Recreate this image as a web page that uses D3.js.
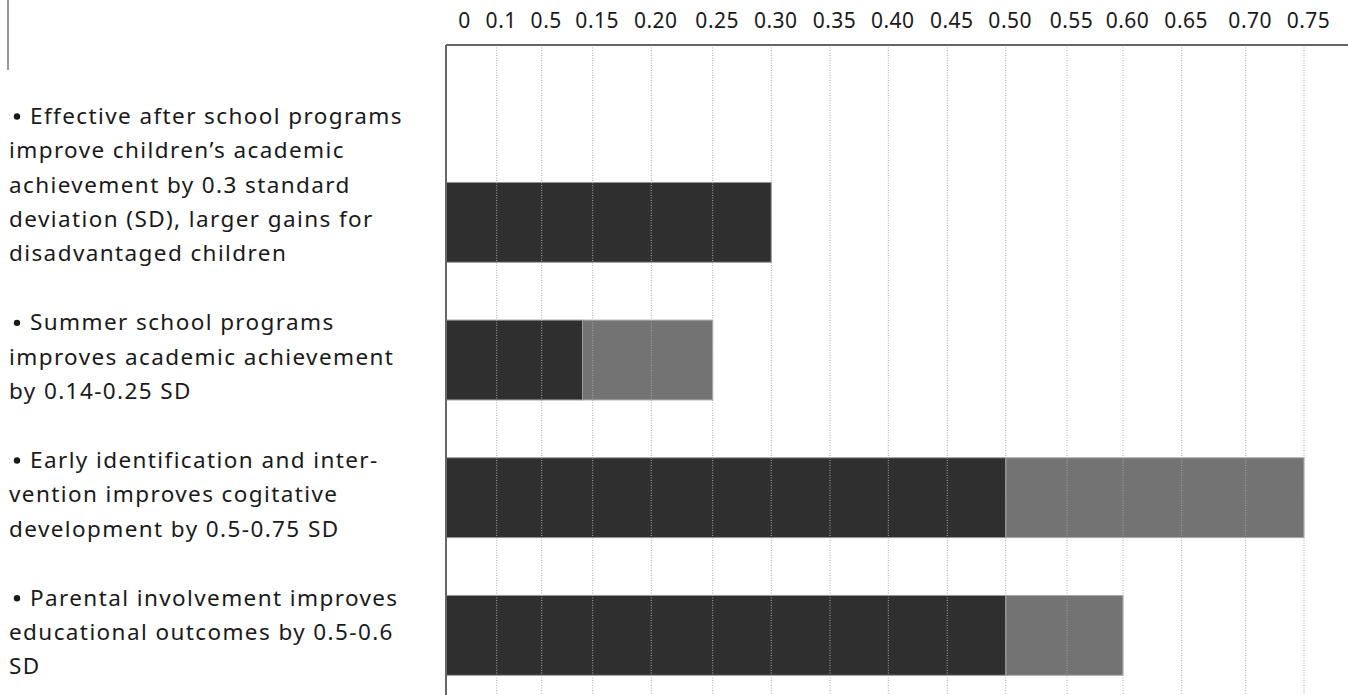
<!DOCTYPE html>
<html lang="en">
<head>
    <meta charset="UTF-8">
    <script src="https://cdn.jsdelivr.net/npm/d3@7"></script>
    <title>Effect sizes</title>
    <style>
        body { margin: 0; background: white; }
        svg { display: block; }
        text { font-family: "Noto Sans", Lato, sans-serif; fill: #1a1a1a; }
    </style>
</head>
<body>
    <script>
        /*------------------- data --------------------*/
        const categories = ["after", "summer", "early", "parental"];
        // base (dark) value and upper end of range (gray)
        const lowValues = [0.30, 0.14, 0.50, 0.50];
        const highValues = [0.30, 0.25, 0.75, 0.60];
        const descriptions = [
            ["Effective after school programs", "improve children\u2019s academic", "achievement by 0.3 standard", "deviation (SD), larger gains for", "disadvantaged children"],
            ["Summer school programs", "improves academic achievement", "by 0.14-0.25 SD"],
            ["Early identification and inter-", "vention improves cogitative", "development by 0.5-0.75 SD"],
            ["Parental involvement improves", "educational outcomes by 0.5-0.6", "SD"]
        ];
        const tickValues = [0, 0.05, 0.10, 0.15, 0.20, 0.25, 0.30, 0.35, 0.40, 0.45, 0.50, 0.55, 0.60, 0.65, 0.70, 0.75];
        const tickLabels = ["0", "0.1", "0.5", "0.15", "0.20", "0.25", "0.30", "0.35", "0.40", "0.45", "0.50", "0.55", "0.60", "0.65", "0.70", "0.75"];

        /*------------------- layout --------------------*/
        const width = 1348, height = 695;
        const axisY = 45, plotLeft = 446;
        // uneven tick spacing of the original graphic
        const tickPx = [446, 496.7, 541.7, 592.7, 651.3, 712.7, 771.3, 830, 888.3, 947.3, 1005.7, 1067, 1123, 1181.7, 1245.7, 1304];

        const x = d3.scaleLinear().domain(tickValues).range(tickPx);
        const y = d3.scaleBand().domain(categories)
            .range([153.5, 704.2])
            .paddingInner(0.42)
            .paddingOuter(0.21);

        const svg = d3.select("body").append("svg")
            .attr("width", width)
            .attr("height", height);

        // little rule top left
        svg.append("line")
            .attr("x1", 8).attr("x2", 8)
            .attr("y1", 0).attr("y2", 70)
            .attr("stroke", "#555").attr("stroke-width", 1.2);

        /*------------------- bars --------------------*/
        const rows = categories.map((c, i) => ({ cat: c, low: lowValues[i], high: highValues[i] }));

        svg.append("g").selectAll("rect.high")
            .data(rows.filter(d => d.high > d.low))
            .join("rect")
            .attr("class", "high")
            .attr("x", d => x(d.low))
            .attr("y", d => y(d.cat))
            .attr("width", d => x(d.high) - x(d.low))
            .attr("height", y.bandwidth())
            .attr("fill", "#737373")
            .attr("stroke", "#aaa")
            .attr("stroke-width", 1);

        svg.append("g").selectAll("rect.low")
            .data(rows)
            .join("rect")
            .attr("class", "low")
            .attr("x", x(0))
            .attr("y", d => y(d.cat))
            .attr("width", d => x(d.low) - x(0))
            .attr("height", y.bandwidth())
            .attr("fill", "#2f2f2f")
            .attr("stroke", "#999")
            .attr("stroke-width", 1);

        /*------------------- grid + axis --------------------*/
        svg.append("g").selectAll("line.grid")
            .data(tickValues.slice(1))
            .join("line")
            .attr("class", "grid")
            .attr("x1", d => x(d)).attr("x2", d => x(d))
            .attr("y1", axisY).attr("y2", height)
            .attr("stroke", "#a8a8a8")
            .attr("stroke-width", 1)
            .attr("stroke-dasharray", "1,1.5");

        const axis = d3.axisTop(x)
            .tickValues(tickValues)
            .tickSize(0)
            .tickPadding(17)
            .tickFormat((d, i) => tickLabels[i]);

        const gAxis = svg.append("g")
            .attr("transform", `translate(0,${axisY})`)
            .call(axis);
        gAxis.select(".domain").remove();
        gAxis.selectAll("text")
            .attr("font-size", 21)
            .attr("letter-spacing", 0.5)
            .attr("dx", (d, i) => i === 0 ? 18 : 4)
            .style("font-family", "'Noto Sans', sans-serif")
            .attr("fill", "#1a1a1a");

        // top and left frame lines
        svg.append("line")
            .attr("x1", plotLeft).attr("x2", width)
            .attr("y1", axisY).attr("y2", axisY)
            .attr("stroke", "#666").attr("stroke-width", 2);
        svg.append("line")
            .attr("x1", plotLeft).attr("x2", plotLeft)
            .attr("y1", axisY).attr("y2", height)
            .attr("stroke", "#666").attr("stroke-width", 2);

        /*------------------- descriptions --------------------*/
        const lineH = 34.3;
        const blocks = svg.append("g").selectAll("g.desc")
            .data(rows)
            .join("g")
            .attr("class", "desc");

        blocks.each(function (d, i) {
            const lines = descriptions[i];
            const lastBase = y(d.cat) + y.bandwidth() - 1;
            const firstBase = lastBase - (lines.length - 1) * lineH;
            const g = d3.select(this);
            // bullet
            g.append("circle")
                .attr("cx", 17).attr("cy", firstBase - 7.5)
                .attr("r", 3.2)
                .attr("fill", "#1a1a1a");
            g.selectAll("text.line")
                .data(lines)
                .join("text")
                .attr("class", "line")
                .attr("x", (l, j) => j === 0 ? 30 : 9)
                .attr("y", (l, j) => firstBase + j * lineH)
                .attr("font-size", 22.5)
                .attr("letter-spacing", 1.4)
                .text(l => l);
        });
    </script>
</body>
</html>
